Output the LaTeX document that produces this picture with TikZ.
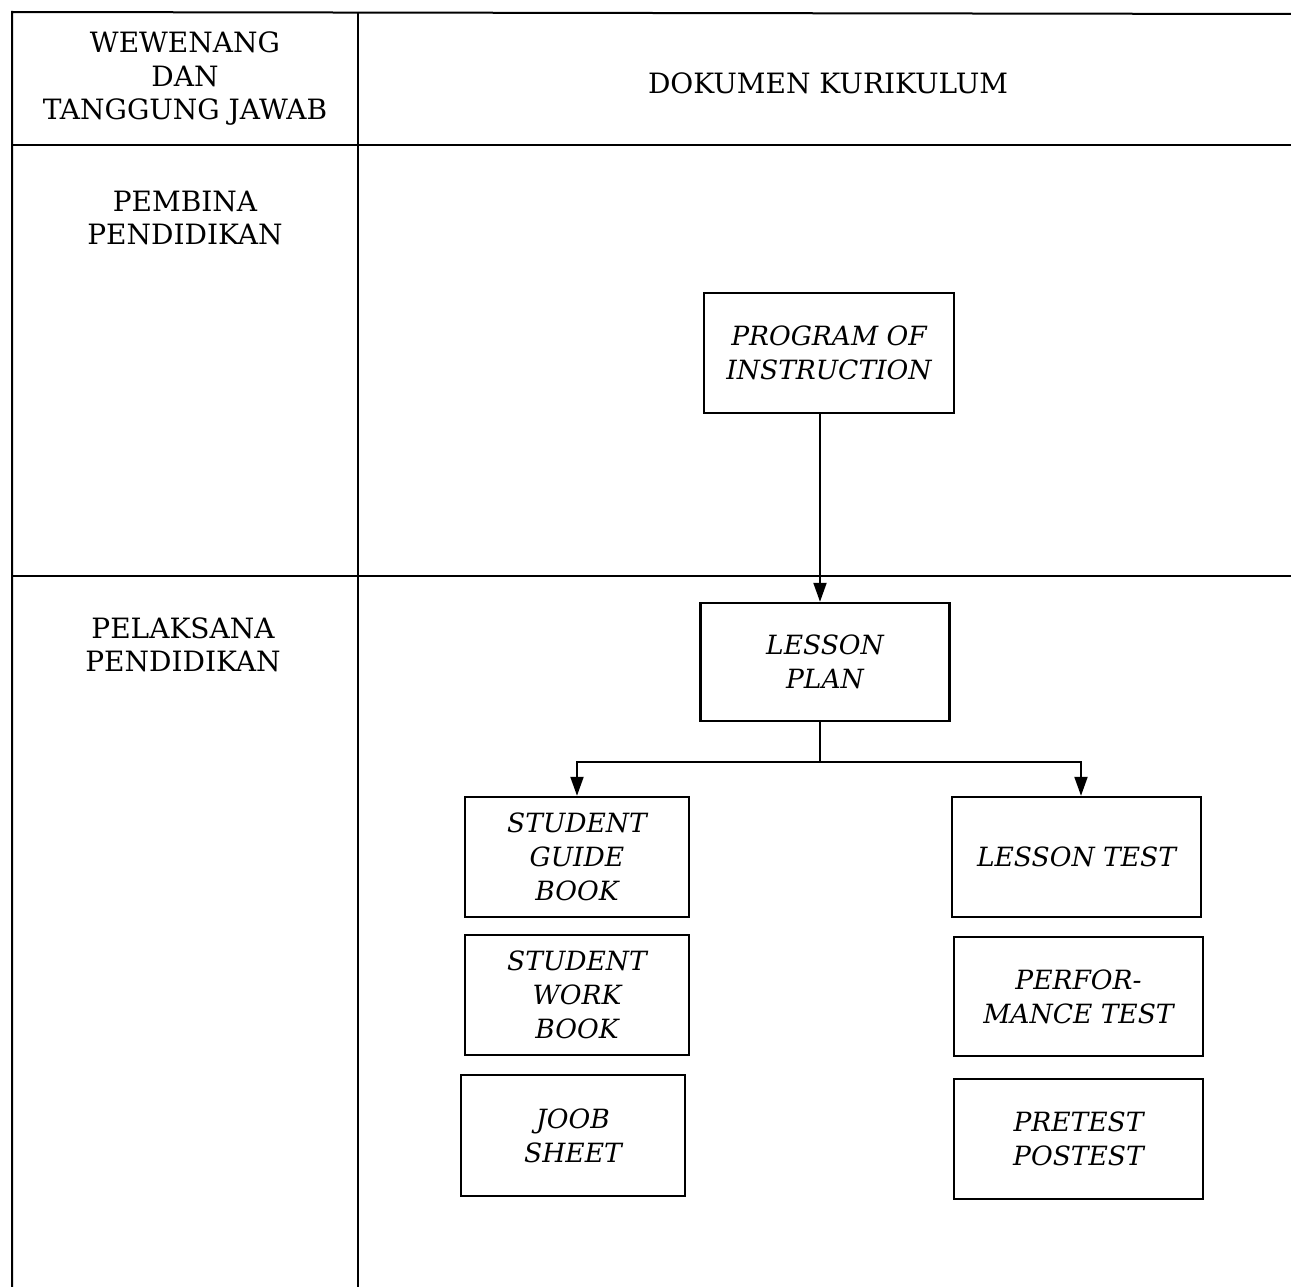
\documentclass[tikz,border=0pt]{standalone}
\usepackage{fontspec}
\setmainfont{DejaVu Serif}
\usetikzlibrary{arrows.meta}
\begin{document}
\begin{tikzpicture}[x=1pt,y=-1pt,
  rule/.style={line width=2pt},
  docbox/.style={draw,line width=2.4pt,minimum width=#1,minimum height=120pt,inner sep=1pt,align=center,font=\fontsize{26.5}{34}\selectfont\itshape},
  docbox/.default=224pt,
  head/.style={align=center,font=\fontsize{28}{33.5}\selectfont},
  conn/.style={line width=2pt,-{Triangle[length=19pt,width=13pt]}},
  seg/.style={line width=2pt}]
\useasboundingbox (0,0) rectangle (1291,1287);
% table rules
\draw[rule] (12,1287) -- (12,12) -- (1291,14);
\draw[rule] (12,145) -- (1291,145);
\draw[rule] (12,576) -- (1291,576);
\draw[rule] (358,12) -- (358,1287);
% headings
\node[head] (hA) at (185,79) {WEWENANG\\DAN\\TANGGUNG JAWAB};
\node[head] (hB) at (828,83) {DOKUMEN KURIKULUM};
\node[head] (hC) at (185,218) {PEMBINA\\PENDIDIKAN};
\node[head] (hD) at (183,645) {PELAKSANA\\PENDIDIKAN};
% boxes
\node[docbox=250pt] (poi) at (829,353) {PROGRAM OF\\INSTRUCTION};
\node[docbox=249pt,minimum height=118pt] (lp) at (825,662) {LESSON\\PLAN};
\node[docbox] (sgb) at (577,857) {STUDENT\\GUIDE\\BOOK};
\node[docbox] (swb) at (577,995) {STUDENT\\WORK\\BOOK};
\node[docbox,minimum height=121pt] (js) at (573,1135.5) {JOOB\\SHEET};
\node[docbox=249pt] (lt) at (1076.5,857) {LESSON TEST};
\node[docbox=249pt,minimum height=119pt] (pt) at (1078.5,996.5) {PERFOR-\\MANCE TEST};
\node[docbox=249pt] (pp) at (1078.5,1139) {PRETEST\\POSTEST};
% connectors
\draw[conn] (poi.south -| 820,0) -- (lp.north -| 820,0);
\coordinate (j) at (820,762);
\draw[seg] (lp.south -| j) -- (j);
\draw[conn] (j) -| (sgb.north);
\draw[conn] (j) -| (lt.north -| 1081,0);
\end{tikzpicture}
\end{document}
